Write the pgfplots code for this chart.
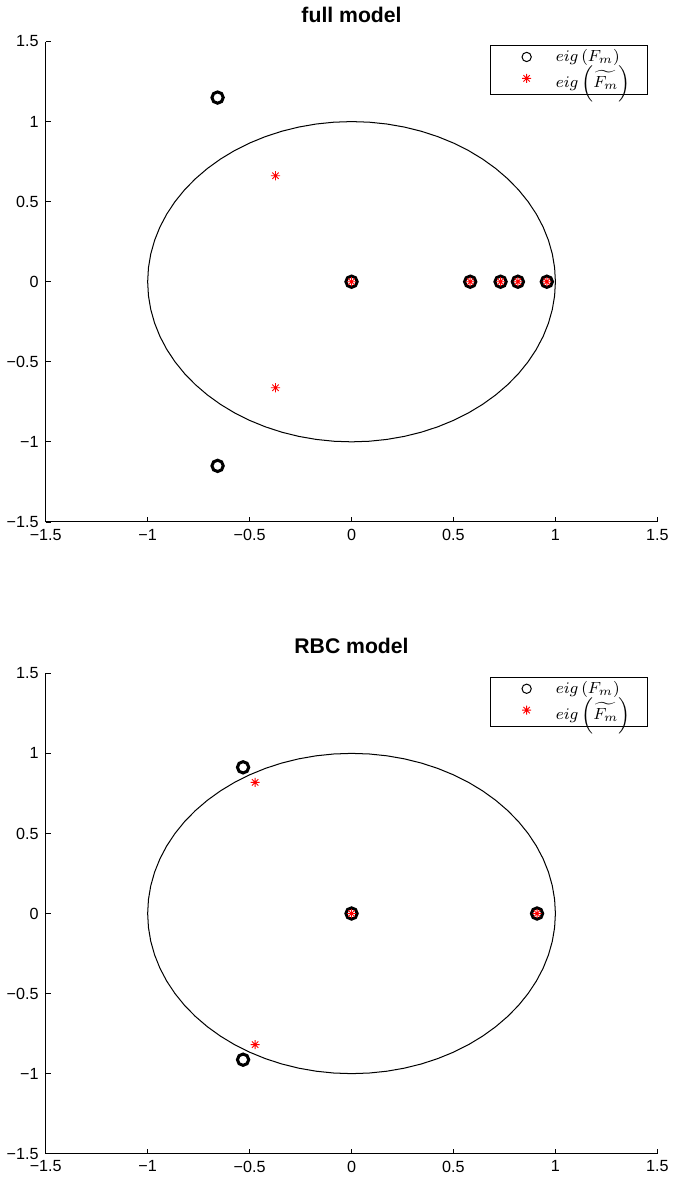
\documentclass[border=0pt]{standalone}
\usepackage{fontspec}
\setmainfont{Liberation Sans}
\usepackage{pgfplots}
\pgfplotsset{compat=1.18}

% MATLAB-style eight-armed asterisk
\pgfdeclareplotmark{mstar}{%
  \pgfpathmoveto{\pgfqpoint{\pgfplotmarksize}{0pt}}%
  \pgfpathlineto{\pgfqpoint{-\pgfplotmarksize}{0pt}}%
  \pgfpathmoveto{\pgfqpoint{0pt}{\pgfplotmarksize}}%
  \pgfpathlineto{\pgfqpoint{0pt}{-\pgfplotmarksize}}%
  \pgfpathmoveto{\pgfqpoint{0.707\pgfplotmarksize}{0.707\pgfplotmarksize}}%
  \pgfpathlineto{\pgfqpoint{-0.707\pgfplotmarksize}{-0.707\pgfplotmarksize}}%
  \pgfpathmoveto{\pgfqpoint{-0.707\pgfplotmarksize}{0.707\pgfplotmarksize}}%
  \pgfpathlineto{\pgfqpoint{0.707\pgfplotmarksize}{-0.707\pgfplotmarksize}}%
  \pgfusepathqstroke}

\pgfplotstableread{
x y
1 0
0.9962 0.0872
0.9848 0.1736
0.9659 0.2588
0.9397 0.3420
0.9063 0.4226
0.8660 0.5000
0.8192 0.5736
0.7660 0.6428
0.7071 0.7071
0.6428 0.7660
0.5736 0.8192
0.5000 0.8660
0.4226 0.9063
0.3420 0.9397
0.2588 0.9659
0.1736 0.9848
0.0872 0.9962
0 1
-0.0872 0.9962
-0.1736 0.9848
-0.2588 0.9659
-0.3420 0.9397
-0.4226 0.9063
-0.5000 0.8660
-0.5736 0.8192
-0.6428 0.7660
-0.7071 0.7071
-0.7660 0.6428
-0.8192 0.5736
-0.8660 0.5000
-0.9063 0.4226
-0.9397 0.3420
-0.9659 0.2588
-0.9848 0.1736
-0.9962 0.0872
-1 0
-0.9962 -0.0872
-0.9848 -0.1736
-0.9659 -0.2588
-0.9397 -0.3420
-0.9063 -0.4226
-0.8660 -0.5000
-0.8192 -0.5736
-0.7660 -0.6428
-0.7071 -0.7071
-0.6428 -0.7660
-0.5736 -0.8192
-0.5000 -0.8660
-0.4226 -0.9063
-0.3420 -0.9397
-0.2588 -0.9659
-0.1736 -0.9848
-0.0872 -0.9962
0 -1
0.0872 -0.9962
0.1736 -0.9848
0.2588 -0.9659
0.3420 -0.9397
0.4226 -0.9063
0.5000 -0.8660
0.5736 -0.8192
0.6428 -0.7660
0.7071 -0.7071
0.7660 -0.6428
0.8192 -0.5736
0.8660 -0.5000
0.9063 -0.4226
0.9397 -0.3420
0.9659 -0.2588
0.9848 -0.1736
0.9962 -0.0872
1 0
}\circletab

\pgfplotsset{
  eigax/.style={
    scale only axis,
    width=303pt, height=238pt,
    xmin=-1.5, xmax=1.5, ymin=-1.5, ymax=1.5,
    axis x line*=bottom, axis y line*=left,
    axis line style={line width=0.5pt},
    tick align=inside, major tick length=2.5pt,
    tick style={line width=0.4pt, black},
    xtick={-1.5,-1,-0.5,0,0.5,1,1.5},
    ytick={-1.5,-1,-0.5,0,0.5,1,1.5},
    xticklabels={−1.5,−1,−0.5,0,0.5,1,1.5},
    yticklabels={−1.5,−1,−0.5,0,0.5,1,1.5},
    ticklabel style={font=\fontsize{8}{9}\selectfont},
    title style={font=\bfseries\fontsize{10.5}{12}\selectfont, yshift=0pt},
    legend style={at={(rel axis cs:0.985,0.992)}, anchor=north east,
      draw=black, line width=0.4pt, font=\fontsize{8}{9.5}\selectfont,
      inner xsep=1pt, inner ysep=1.5pt, row sep=0pt,
      nodes={text width=43pt, align=left, inner xsep=1.5pt, inner ysep=0.3pt}},
    legend cell align=left,
    legend image code/.code={%
      \path[draw=none] (0pt,0pt) -- (30pt,0pt);
      \draw[##1] plot coordinates {(17pt,0pt)};},
    clip=false,
  },
  eigO/.style={only marks, mark=o, black, mark size=2.8pt, line width=1.5pt},
  eigS/.style={only marks, mark=mstar, red, mark size=2.25pt, line width=0.45pt},
}

\begin{document}
\begin{tikzpicture}
\begin{axis}[eigax, at={(0,313pt)}, title={full model}]
\addlegendimage{only marks, mark=o, black, mark size=2.3pt, line width=0.5pt}
\addlegendentry{$eig\left(F_m\right)$}
\addlegendimage{only marks, mark=mstar, red, mark size=2.25pt, line width=0.45pt}
\addlegendentry{$eig\left(\widetilde{F_m}\right)$}
\addplot[black, line width=0.5pt, forget plot] table[x=x, y=y] {\circletab};
\addplot[eigO, forget plot] coordinates {
(-0.657,1.150) (-0.657,-1.150) (0,0) (0.582,0) (0.731,0) (0.816,0) (0.958,0)};
\addplot[eigS, forget plot] coordinates {
(-0.373,0.662) (-0.373,-0.662) (0,0) (0.582,0) (0.731,0) (0.816,0) (0.958,0)};
\end{axis}

\begin{axis}[eigax, at={(0,0)}, title={RBC model}]
\addlegendimage{only marks, mark=o, black, mark size=2.3pt, line width=0.5pt}
\addlegendentry{$eig\left(F_m\right)$}
\addlegendimage{only marks, mark=mstar, red, mark size=2.25pt, line width=0.45pt}
\addlegendentry{$eig\left(\widetilde{F_m}\right)$}
\addplot[black, line width=0.5pt, forget plot] table[x=x, y=y] {\circletab};
\addplot[eigO, forget plot] coordinates {
(-0.532,0.913) (-0.532,-0.913) (0,0) (0.910,0)};
\addplot[eigS, forget plot] coordinates {
(-0.473,0.819) (-0.473,-0.819) (0,0) (0.910,0)};
\end{axis}
\end{tikzpicture}
\end{document}
